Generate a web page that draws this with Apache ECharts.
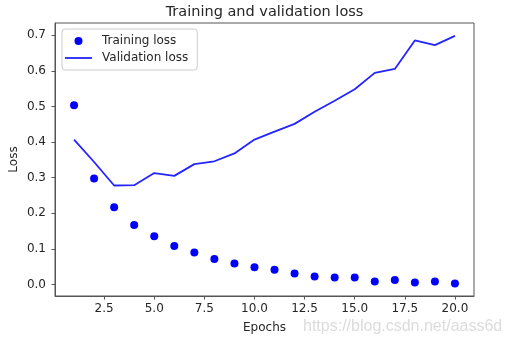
<!DOCTYPE html>
<html>
<head>
<meta charset="utf-8">
<script src="https://cdn.jsdelivr.net/npm/echarts@6/dist/echarts.min.js"></script>
<style>
  html, body { margin: 0; padding: 0; background: #fff; }
  #chart { width: 509px; height: 345px; }
</style>
</head>
<body>
<div id="chart"></div>
<script>
// Loss per epoch for the training run
const epochs = [1, 2, 3, 4, 5, 6, 7, 8, 9, 10, 11, 12, 13, 14, 15, 16, 17, 18, 19, 20];
const trainingLoss = [0.503, 0.298, 0.217, 0.167, 0.136, 0.108, 0.090, 0.072, 0.059, 0.049,
                      0.042, 0.031, 0.023, 0.020, 0.020, 0.009, 0.013, 0.006, 0.009, 0.003];
const validationLoss = [0.407, 0.344, 0.278, 0.279, 0.313, 0.305, 0.338, 0.346, 0.368, 0.407,
                        0.429, 0.451, 0.485, 0.516, 0.548, 0.594, 0.605, 0.685, 0.672, 0.698];
const xTicks = [2.5, 5.0, 7.5, 10.0, 12.5, 15.0, 17.5, 20.0];
const yTicks = [0.0, 0.1, 0.2, 0.3, 0.4, 0.5, 0.6, 0.7];

const FONT = 'DejaVu Sans';
const TEXT = '#262626';
const SPINE = '#555';
const BLUE = '#0000ff';
const LINE_BLUE = '#2424ff';

const chart = echarts.init(document.getElementById('chart'), null, { renderer: 'canvas' });

chart.setOption({
  animation: false,
  backgroundColor: '#fff',
  textStyle: { fontFamily: FONT },
  title: {
    text: 'Training and validation loss',
    left: 264.5,
    top: 5,
    textAlign: 'center',
    padding: 0,
    textStyle: { fontFamily: FONT, fontSize: 14.5, fontWeight: 'normal', color: TEXT }
  },
  grid: {
    left: 55, right: 35, top: 23, bottom: 49,
    outerBoundsMode: 'none',
    containLabel: false,
    show: true, borderColor: SPINE, borderWidth: 1, backgroundColor: 'transparent'
  },
  legend: {
    orient: 'vertical',
    left: 62, top: 29,
    padding: [6, 9, 6, 3],
    itemGap: 5,
    itemWidth: 27,
    itemHeight: 8,
    backgroundColor: '#fff',
    borderColor: '#ccc',
    borderWidth: 1,
    borderRadius: 3,
    textStyle: { fontFamily: FONT, fontSize: 12, color: TEXT, padding: [0, 0, 0, 5] },
    data: [
      { name: 'Training loss', icon: 'circle', itemStyle: { color: BLUE, opacity: 1 } },
      // plain stroke for the line series
      { name: 'Validation loss', icon: 'path://M0,0H27V1.8H0Z', itemStyle: { color: LINE_BLUE } }
    ]
  },
  xAxis: {
    type: 'value',
    min: 0.05, max: 20.95,
    name: 'Epochs',
    nameLocation: 'middle',
    nameGap: 26,
    nameMoveOverlap: false,
    nameTextStyle: { fontFamily: FONT, fontSize: 12, color: TEXT },
    splitLine: { show: false },
    axisLine: { show: true, onZero: false, lineStyle: { color: SPINE, width: 1 } },
    axisTick: { show: true, length: 3.5, customValues: xTicks, lineStyle: { color: SPINE } },
    axisLabel: {
      customValues: xTicks, margin: 7,
      fontFamily: FONT, fontSize: 12, color: TEXT,
      formatter: v => v.toFixed(1)
    }
  },
  yAxis: {
    type: 'value',
    min: -0.032, max: 0.734,
    name: 'Loss',
    nameLocation: 'middle',
    nameGap: 35,
    nameMoveOverlap: false,
    nameTextStyle: { fontFamily: FONT, fontSize: 12, color: TEXT },
    splitLine: { show: false },
    axisLine: { show: true, onZero: false, lineStyle: { color: SPINE, width: 1 } },
    axisTick: { show: true, length: 3.5, customValues: yTicks, lineStyle: { color: SPINE } },
    axisLabel: {
      customValues: yTicks, margin: 9,
      fontFamily: FONT, fontSize: 12, color: TEXT,
      formatter: v => v.toFixed(1)
    }
  },
  series: [
    {
      name: 'Training loss',
      type: 'scatter',
      symbol: 'circle',
      symbolSize: 8,
      itemStyle: { color: BLUE, opacity: 1 },
      data: epochs.map((e, i) => [e, trainingLoss[i]]),
      z: 2
    },
    {
      name: 'Validation loss',
      type: 'line',
      symbol: 'none',
      showSymbol: false,
      lineStyle: { color: LINE_BLUE, width: 1.8 },
      itemStyle: { color: LINE_BLUE },
      data: epochs.map((e, i) => [e, validationLoss[i]]),
      z: 3
    }
  ],
  graphic: [
    {
      type: 'text',
      left: 303, top: 319,
      style: {
        text: 'https://blog.csdn.net/aass6d',
        font: '16px "Liberation Sans"',
        fill: '#dcdcdc'
      }
    }
  ]
});
</script>
</body>
</html>
